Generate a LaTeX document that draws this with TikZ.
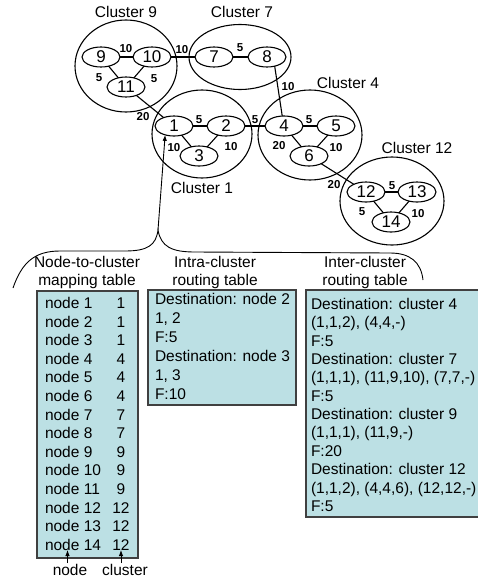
\documentclass[tikz,border=0pt]{standalone}
\usepackage{fontspec}
\setmainfont{Liberation Sans}
\usetikzlibrary{shapes.geometric,arrows.meta}
\definecolor{tablefill}{RGB}{188,224,228}
\begin{document}
\begin{tikzpicture}[x=1pt,y=-1pt,
  every node/.style={inner sep=0pt, outer sep=0pt},
  hostnode/.style={ellipse, draw, line width=1.1pt, minimum width=38pt, minimum height=20pt,
    font=\fontsize{17}{17}\selectfont},
  clusterring/.style={ellipse, draw, line width=1.1pt},
  link/.style={line width=1.1pt},
  thinlink/.style={line width=0.9pt},
  weight/.style={font=\fontsize{11.5}{11.5}\selectfont\bfseries},
  clabel/.style={font=\fontsize{15.5}{15.5}\selectfont},
  headtext/.style={font=\fontsize{15.5}{15.5}\selectfont, anchor=base},
  tabtext/.style={font=\fontsize{15.5}{15.5}\selectfont, anchor=base west},
  tablebox/.style={draw=black!75, fill=tablefill, line width=1.1pt, anchor=north west},
  pointer/.style={thinlink, -{Latex[length=6pt,width=4.5pt]}},
]
\useasboundingbox (0,0) rectangle (477,581);

% clusters
\node[clusterring, minimum width=102pt, minimum height=92pt] (c9) at (126,66) {};
\node[clusterring, minimum width=102pt, minimum height=65pt] (c7) at (240,57) {};
\node[clusterring, minimum width=100pt, minimum height=88pt] (c1) at (202,134) {};
\node[clusterring, minimum width=104pt, minimum height=90pt] (c4) at (310,135) {};
\node[clusterring, minimum width=104pt, minimum height=88pt] (c12) at (392,201) {};

\node[clabel] (l9) at (126,12) {Cluster 9};
\node[clabel] (l7) at (242,12) {Cluster 7};
\node[clabel] (l4) at (348,83) {Cluster 4};
\node[clabel] (l12) at (417,148) {Cluster 12};
\node[clabel] (l1) at (202,188) {Cluster 1};

% hosts
\node[hostnode] (n9) at (101,57) {9};
\node[hostnode] (n10) at (152,57) {10};
\node[hostnode] (n11) at (126,87) {11};
\node[hostnode] (n7) at (214,57) {7};
\node[hostnode] (n8) at (267,57) {8};
\node[hostnode] (n1) at (174,126) {1};
\node[hostnode] (n2) at (226,126) {2};
\node[hostnode] (n3) at (199,156) {3};
\node[hostnode] (n4) at (284,126) {4};
\node[hostnode] (n5) at (336,126) {5};
\node[hostnode] (n6) at (309,156) {6};
\node[hostnode] (n12) at (366,192) {12};
\node[hostnode] (n13) at (417,192) {13};
\node[hostnode] (n14) at (391,222) {14};

% links
\draw[link] (n9) -- (n10);
\draw[link] (n9) -- (n11);
\draw[link] (n10) -- (n11);
\draw[link] (n10) -- (n7);
\draw[link] (n7) -- (n8);
\draw[link] (n8.-50) -- (n4.100);
\draw[link] (n11) -- (n1);
\draw[link] (n1) -- (n2);
\draw[link] (n2) -- (n4);
\draw[link] (n1) -- (n3);
\draw[link] (n2) -- (n3);
\draw[link] (n4) -- (n5);
\draw[link] (n4) -- (n6);
\draw[link] (n5) -- (n6);
\draw[link] (n6) -- (n12);
\draw[link] (n12) -- (n13);
\draw[link] (n12) -- (n14);
\draw[link] (n13) -- (n14);

% link weights
\node[weight] (w1) at (126,49) {10};
\node[weight] (w2) at (99,78) {5};
\node[weight] (w3) at (154,79) {5};
\node[weight] (w4) at (182,50) {10};
\node[weight] (w5) at (240,48) {5};
\node[weight] (w6) at (288,87) {10};
\node[weight] (w7) at (143,117) {20};
\node[weight] (w8) at (199,120) {5};
\node[weight] (w9) at (255,120) {5};
\node[weight] (w10) at (174,148) {10};
\node[weight] (w11) at (231,147) {10};
\node[weight] (w12) at (309,120) {5};
\node[weight] (w13) at (279,146) {20};
\node[weight] (w14) at (336,148) {10};
\node[weight] (w15) at (334,185) {20};
\node[weight] (w16) at (392,186) {5};
\node[weight] (w17) at (362,212) {5};
\node[weight] (w18) at (418,214) {10};

% brace grouping the three tables of node 1
\coordinate (tip) at (158,230);
\coordinate (bl) at (13,288);
\coordinate (br) at (423,280);
\draw[thinlink] (bl) .. controls (22,262) and (35,251) .. (60,251) -- (125,251)
  .. controls (148,251) and (156,245) .. (tip)
  .. controls (161,247) and (172,252) .. (195,252) -- (390,253)
  .. controls (410,253) and (421,262) .. (br);
\draw[pointer] (tip) -- (n1.225);

% table headings
\node[headtext] (h1a) at (87,267) {Node-to-cluster};
\node[headtext] (h1b) at (87,285) {mapping table};
\node[headtext] (h2a) at (215,267) {Intra-cluster};
\node[headtext] (h2b) at (215,285) {routing table};
\node[headtext] (h3a) at (365,267) {Inter-cluster};
\node[headtext] (h3b) at (365,285) {routing table};

% tables
\node[tablebox, minimum width=101pt, minimum height=267pt] (t1) at (37,291) {};
\node[tablebox, minimum width=148pt, minimum height=115pt] (t2) at (148,290) {};
\node[tablebox, minimum width=175pt, minimum height=227pt] (t3) at (306,290) {};

\foreach \i/\c in {1/1,2/1,3/1,4/4,5/4,6/4,7/7,8/7,9/9,10/9,11/9,12/12,13/12,14/12}{
  \node[tabtext] (m\i) at (45,{308.5+18.6*(\i-1)}) {node \i};
  \node[font=\fontsize{15.5}{15.5}\selectfont, anchor=base] (mc\i) at (121,{308.5+18.6*(\i-1)}) {\c};
}

\foreach \t [count=\k from 0] in {Destination: node 2, {1, 2}, F:5, Destination: node 3, {1, 3}, F:10}{
  \node[tabtext] (r\k) at (155,{304+19*\k}) {\t};
}

\foreach \t [count=\k from 0] in {Destination: cluster 4, {(1,1,2), (4,4,-)}, F:5,
  Destination: cluster 7, {(1,1,1), (11,9,10), (7,7,-)}, F:5,
  Destination: cluster 9, {(1,1,1), (11,9,-)}, F:20,
  Destination: cluster 12, {(1,1,2), (4,4,6), (12,12,-)}, F:5}{
  \node[tabtext] (g\k) at (311,{309.5+18.35*\k}) {\t};
}

% column captions
\node[headtext] (capnode) at (70,575) {node};
\node[headtext] (capcluster) at (125,575) {cluster};
\coordinate (an1) at (67.5,563);
\coordinate (an2) at (67.5,550);
\coordinate (ac1) at (121,563);
\coordinate (ac2) at (121,550);
\draw[pointer] (an1) -- (an2);
\draw[pointer] (ac1) -- (ac2);
\end{tikzpicture}
\end{document}
